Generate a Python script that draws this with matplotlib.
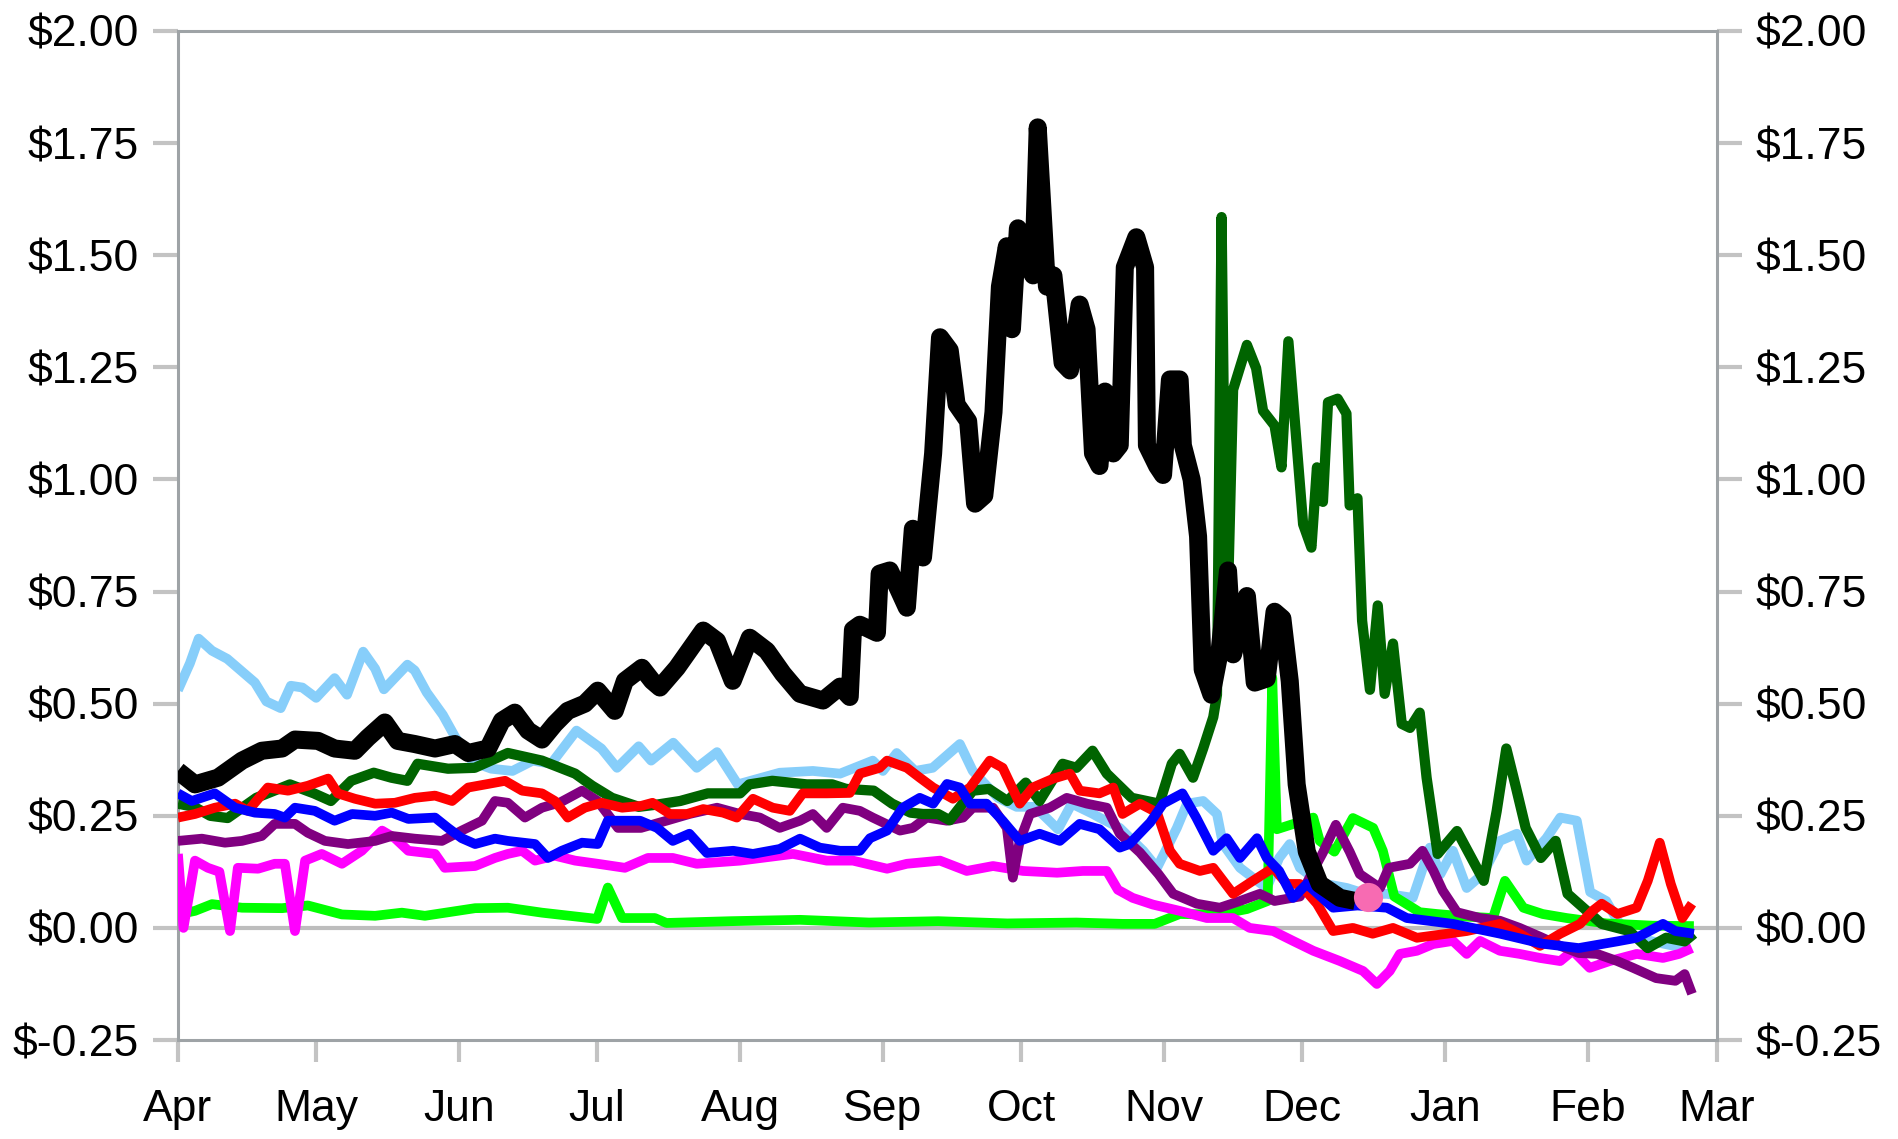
import numpy as np
import matplotlib
matplotlib.use("Agg")
import matplotlib.pyplot as plt
import matplotlib.dates as mdates
from matplotlib.ticker import MultipleLocator, FuncFormatter

plt.rcParams['font.family'] = ['Liberation Sans', 'DejaVu Sans']

START = '2022-04-01'
END = '2023-03-01'

# (days since Apr 1, dollars)
black = [(0, 0.35), (3.7, 0.32), (8.7, 0.335), (13.9, 0.373), (18.2, 0.395), (22.6, 0.40),
         (25.4, 0.42), (30.4, 0.417), (34, 0.40), (38.4, 0.395), (41.2, 0.424), (44.9, 0.458),
         (47.7, 0.417), (51.4, 0.41), (55.8, 0.40), (60.1, 0.41), (63, 0.39), (67.3, 0.40),
         (70.3, 0.462), (73.1, 0.48), (76, 0.44), (79, 0.42), (81.8, 0.455), (84.6, 0.484),
         (88.3, 0.50), (91.1, 0.529), (94.8, 0.484), (97, 0.551), (100.7, 0.58), (102.9, 0.551),
         (104.6, 0.536), (108.3, 0.58), (114, 0.663), (117, 0.64), (120.4, 0.551), (124.1, 0.647),
         (127.8, 0.618), (131.3, 0.567), (135, 0.522), (140, 0.507), (143.7, 0.538), (145.8, 0.515),
         (146.5, 0.665), (148, 0.676), (151.7, 0.658), (152.3, 0.79), (154.5, 0.797), (158.2, 0.714),
         (159.5, 0.89), (161.7, 0.826), (163.9, 1.058), (165.4, 1.317), (167.5, 1.288), (169, 1.167),
         (171.5, 1.13), (173, 0.946), (175, 0.964), (177, 1.15), (178.4, 1.43), (179.9, 1.52),
         (181, 1.335), (182.3, 1.56), (183.4, 1.50), (185.6, 1.455), (186.6, 1.785), (188.6, 1.43),
         (190, 1.455), (192, 1.26), (193.6, 1.243), (195.7, 1.39), (197.2, 1.335), (198.6, 1.058),
         (200, 1.03), (201.2, 1.196), (203, 1.058), (204.4, 1.076), (205.5, 1.473), (208, 1.54),
         (209.9, 1.473), (210.3, 1.076), (212.5, 1.03), (213.8, 1.01), (215.3, 1.223), (217.4, 1.223),
         (218.1, 1.076), (220, 1.0), (221.4, 0.873), (222.4, 0.576), (224.3, 0.52), (226, 0.61),
         (227.9, 0.797), (229, 0.61), (232, 0.74), (233.7, 0.547), (236.3, 0.556), (238, 0.705),
         (239.7, 0.69), (241.3, 0.55), (242.8, 0.32), (245, 0.17), (247.8, 0.098), (252.2, 0.067),
         (255.5, 0.06)]

dark_green = [(0, 0.277), (3.5, 0.27), (7, 0.25), (10.8, 0.245), (17, 0.29), (24.3, 0.32),
              (29.5, 0.30), (33.2, 0.283), (37.6, 0.328), (42.5, 0.346), (46.3, 0.335), (49.8, 0.328),
              (52, 0.366), (58.6, 0.355), (64.4, 0.357), (71.6, 0.39), (79, 0.373), (86.2, 0.344),
              (89.9, 0.317), (94.2, 0.29), (100, 0.27), (104, 0.275), (109, 0.283), (115, 0.30),
              (122, 0.30), (124, 0.32), (129, 0.328), (136.5, 0.32), (142, 0.32), (145, 0.31),
              (151, 0.306), (155, 0.277), (159, 0.257), (161.7, 0.254), (165, 0.254), (167.5, 0.24),
              (172.5, 0.306), (176, 0.31), (180, 0.283), (184, 0.324), (187, 0.283), (192, 0.366),
              (195, 0.357), (198.5, 0.395), (201.6, 0.344), (207, 0.29), (213, 0.277), (215.7, 0.366),
              (217.4, 0.388), (220.3, 0.335), (222.5, 0.40), (224.7, 0.47), (225.5, 0.52),
              (226.5, 1.585), (227.6, 0.62), (229, 1.20), (232, 1.30), (234, 1.248), (235.5, 1.153),
              (238, 1.12), (239.5, 1.027), (241, 1.308), (242.4, 1.13), (244.2, 0.90), (246, 0.848),
              (247.2, 1.027), (248.5, 0.95), (249.6, 1.172), (251.7, 1.18), (253.6, 1.147),
              (254.3, 0.942), (256, 0.958), (257, 0.685), (258.7, 0.531), (260.4, 0.719),
              (261.9, 0.522), (263.7, 0.634), (265.6, 0.455), (267.4, 0.446), (269.5, 0.48),
              (271, 0.335), (273.4, 0.165), (277.6, 0.216), (283.4, 0.105), (286.2, 0.26),
              (288.3, 0.40), (290.4, 0.313), (292.5, 0.223), (295.8, 0.156), (299, 0.194),
              (301.6, 0.076), (305, 0.045), (309, 0.009), (315, -0.007), (319, -0.045),
              (323, -0.022), (327, -0.03), (329, -0.013)]

lime = [(0, 0.03), (3.7, 0.038), (7.4, 0.053), (13.9, 0.045), (22.6, 0.044), (28.2, 0.05),
        (35.6, 0.03), (42.8, 0.027), (48.6, 0.034), (53.6, 0.027), (64.5, 0.044), (71.6, 0.045),
        (79, 0.034), (91, 0.02), (93.3, 0.09), (96.4, 0.022), (103.5, 0.022), (106, 0.011),
        (120, 0.015), (135, 0.018), (150, 0.012), (165, 0.015), (180, 0.01), (195, 0.012),
        (205, 0.009), (212, 0.009), (217.4, 0.031), (226, 0.03), (232, 0.042), (236.5, 0.06),
        (237.5, 0.558), (238.5, 0.22), (246.4, 0.246), (247.8, 0.194), (251, 0.17),
        (255, 0.245), (259.4, 0.223), (261.5, 0.172), (264, 0.07), (269.5, 0.035),
        (273.2, 0.031), (280, 0.025), (285.4, 0.022), (288, 0.105), (292, 0.045),
        (296.2, 0.031), (301.4, 0.022), (310, 0.01), (320, 0.005), (329, 0.004)]

sky_blue = [(0, 0.53), (2.6, 0.59), (4.5, 0.645), (7.4, 0.618), (10.7, 0.60), (16.7, 0.547),
            (19.2, 0.505), (22.3, 0.49), (24.5, 0.54), (27, 0.536), (30, 0.513), (34, 0.557),
            (36.7, 0.52), (40.2, 0.616), (42.8, 0.578), (44.7, 0.532), (49.8, 0.587), (51.4, 0.574),
            (54, 0.525), (57.5, 0.475), (60.2, 0.425), (64, 0.37), (68, 0.355), (72.6, 0.35),
            (77, 0.373), (81, 0.366), (86.5, 0.44), (91.9, 0.40), (95.3, 0.357), (100, 0.405),
            (102.7, 0.373), (107.5, 0.413), (112.6, 0.357), (117, 0.392), (121.5, 0.32),
            (125, 0.33), (130.6, 0.346), (137.8, 0.35), (143.7, 0.344), (150.8, 0.373),
            (153, 0.35), (156, 0.39), (160, 0.35), (163.8, 0.357), (169.7, 0.41), (172.5, 0.35),
            (178, 0.29), (182, 0.27), (186, 0.27), (191, 0.22), (194, 0.277), (198.6, 0.254),
            (200, 0.246), (204.4, 0.223), (209.5, 0.172), (212.5, 0.134), (216.8, 0.223),
            (219, 0.277), (222.5, 0.283), (225.5, 0.254), (226.8, 0.187), (230.5, 0.134),
            (234.2, 0.105), (236.3, 0.089), (239, 0.156), (241.3, 0.187), (243.5, 0.134),
            (248, 0.10), (253.7, 0.089), (258, 0.075), (262.4, 0.076), (268, 0.067),
            (270.2, 0.134), (271.7, 0.179), (274, 0.12), (276.7, 0.172), (279.7, 0.089),
            (283.2, 0.12), (286.9, 0.194), (290.6, 0.21), (292.7, 0.15), (297, 0.20),
            (300, 0.246), (303.6, 0.239), (306.5, 0.08), (310, 0.06), (312.4, 0.016),
            (316, -0.02), (320, -0.03), (327, -0.045)]

blue = [(0, 0.30), (3, 0.283), (8, 0.30), (12.4, 0.268), (16.7, 0.257), (21, 0.254), (23.2, 0.246),
        (25.4, 0.268), (29.7, 0.261), (34, 0.239), (37.8, 0.254), (42.8, 0.25), (46.4, 0.257),
        (50, 0.243), (55.8, 0.246), (58.6, 0.223), (61.6, 0.20), (64.5, 0.187), (68.8, 0.199),
        (71.6, 0.194), (77.5, 0.187), (80.3, 0.156), (83.3, 0.172), (87.7, 0.19), (91.1, 0.187),
        (93.3, 0.239), (97.7, 0.239), (100.3, 0.239), (104, 0.223), (107.4, 0.194), (111, 0.21),
        (114.8, 0.167), (120.5, 0.172), (124.8, 0.165), (130.6, 0.176), (135, 0.199),
        (139.3, 0.179), (143.7, 0.172), (148, 0.172), (150.2, 0.20), (153.9, 0.217),
        (157.3, 0.268), (161, 0.29), (163.9, 0.277), (166.9, 0.321), (169.7, 0.313),
        (171.9, 0.277), (175.5, 0.277), (179, 0.239), (182.7, 0.194), (187, 0.21),
        (191.4, 0.194), (195.7, 0.232), (200, 0.22), (204.4, 0.179), (206.5, 0.187),
        (211, 0.235), (213.8, 0.277), (218, 0.30), (221, 0.246), (224.7, 0.172), (227.6, 0.20),
        (230.5, 0.156), (234.2, 0.20), (236.3, 0.156), (239, 0.127), (242, 0.067), (245, 0.098),
        (250.7, 0.045), (256, 0.05), (262.4, 0.045), (266.7, 0.022), (276.7, 0.009),
        (287, -0.013), (296, -0.035), (304, -0.045), (312.4, -0.03), (316.6, -0.022),
        (322.3, 0.009), (325, -0.007), (329, -0.013)]

red = [(0, 0.246), (3.7, 0.254), (8, 0.268), (12.4, 0.277), (15.2, 0.261), (19.5, 0.313),
       (23.9, 0.306), (28.2, 0.317), (32.6, 0.333), (34.7, 0.30), (38.4, 0.288), (42.8, 0.277),
       (47.1, 0.279), (51.4, 0.29), (55.8, 0.295), (59.5, 0.283), (63, 0.313), (67.3, 0.321),
       (71, 0.328), (74.7, 0.306), (79, 0.30), (81.8, 0.283), (84.6, 0.246), (88.3, 0.268),
       (92, 0.279), (96.4, 0.268), (100.5, 0.272), (103, 0.279), (106.8, 0.254), (110.5, 0.254),
       (114, 0.265), (118.3, 0.257), (121.3, 0.246), (124.8, 0.288), (129.1, 0.268),
       (132.8, 0.261), (135.6, 0.30), (140.8, 0.30), (145.8, 0.301), (148, 0.344),
       (152.3, 0.357), (153.9, 0.373), (158.2, 0.357), (161, 0.335), (163.9, 0.313),
       (168.2, 0.288), (171.9, 0.313), (176.2, 0.373), (179, 0.357), (182.7, 0.277),
       (185.5, 0.313), (190, 0.333), (193.6, 0.344), (195.7, 0.306), (200, 0.30), (203, 0.313),
       (205, 0.254), (208.8, 0.277), (212.5, 0.257), (215.3, 0.172), (217.4, 0.143),
       (221.8, 0.127), (224.7, 0.134), (229, 0.076), (233.3, 0.105), (237.7, 0.134),
       (240.7, 0.098), (243.5, 0.098), (247.2, 0.054), (250.7, -0.007), (255, 0.0),
       (259.3, -0.013), (263.7, 0.0), (268.9, -0.022), (275.4, -0.013), (279.7, -0.007),
       (286.9, 0.009), (291.2, -0.013), (295.6, -0.04), (300, -0.013), (304.3, 0.009),
       (307, 0.038), (309, 0.054), (312.4, 0.031), (316.6, 0.045), (319, 0.105), (321.6, 0.19),
       (324, 0.098), (326.5, 0.022), (328.6, 0.054)]

purple = [(0, 0.194), (5.2, 0.199), (10.2, 0.19), (13.9, 0.194), (18.2, 0.205), (21, 0.232),
          (25.4, 0.232), (28.2, 0.212), (31.9, 0.194), (36.9, 0.187), (42.8, 0.194), (46.4, 0.205),
          (51.4, 0.199), (57.3, 0.194), (61.6, 0.217), (66, 0.239), (68.8, 0.283), (71.6, 0.279),
          (75.3, 0.246), (79, 0.268), (83, 0.28), (87.7, 0.306), (91.1, 0.283), (95.5, 0.223),
          (100.5, 0.223), (106, 0.239), (111, 0.254), (117, 0.268), (122, 0.254), (126.3, 0.246),
          (130.6, 0.223), (135, 0.239), (137.8, 0.254), (140.8, 0.223), (144.3, 0.268),
          (148, 0.261), (150.8, 0.246), (156.7, 0.217), (159.5, 0.223), (162.5, 0.246),
          (166.9, 0.239), (170.4, 0.246), (172.5, 0.268), (176.9, 0.268), (179.9, 0.223),
          (181.2, 0.112), (182.7, 0.194), (184.9, 0.254), (189.2, 0.268), (192.9, 0.29),
          (197.3, 0.277), (201.6, 0.268), (204.4, 0.21), (208.8, 0.168), (212.8, 0.12),
          (216, 0.076), (221.1, 0.054), (226.1, 0.045), (230.5, 0.06), (234.8, 0.076),
          (238, 0.06), (243.5, 0.07), (246, 0.12), (248.5, 0.168), (251.3, 0.23), (254.3, 0.17),
          (256.5, 0.12), (260.9, 0.089), (262.8, 0.134), (267.4, 0.143), (270.1, 0.172),
          (272.5, 0.127), (274.5, 0.083), (277.6, 0.035), (282.6, 0.022), (286.9, 0.016),
          (291.2, 0.0), (295.7, -0.02), (300, -0.04), (304, -0.056), (308, -0.058),
          (312.4, -0.074), (315.8, -0.089), (320.8, -0.112), (325, -0.118), (327, -0.103),
          (328.6, -0.147)]

magenta = [(0, 0.165), (1.2, 0.0), (3.7, 0.15), (6.5, 0.134), (9, 0.125), (11.3, -0.007),
           (13, 0.134), (17.4, 0.132), (21, 0.143), (23.2, 0.143), (25.4, -0.007), (27.6, 0.15),
           (31.2, 0.165), (35.6, 0.143), (39.9, 0.172), (44.3, 0.217), (47.1, 0.20), (50, 0.172),
           (55.8, 0.165), (57.9, 0.134), (64.5, 0.138), (68.8, 0.156), (71.6, 0.165),
           (74.7, 0.172), (77.5, 0.15), (81.8, 0.161), (86.2, 0.15), (91.1, 0.143), (97, 0.134),
           (102, 0.156), (107.4, 0.156), (112.6, 0.143), (122, 0.15), (133.5, 0.165),
           (140.8, 0.15), (146.5, 0.15), (153.9, 0.132), (158.2, 0.143), (165.4, 0.15),
           (171.2, 0.127), (176.9, 0.138), (183.4, 0.127), (190.8, 0.123), (196.4, 0.127),
           (201.6, 0.127), (204, 0.085), (207.2, 0.067), (211.6, 0.052), (217.4, 0.038),
           (223.3, 0.022), (229, 0.022), (232.6, 0.0), (237.7, -0.007), (242, -0.029),
           (246.4, -0.051), (252.2, -0.074), (257.2, -0.096), (260.2, -0.125), (263, -0.096),
           (265.2, -0.058), (268.9, -0.051), (272.4, -0.036), (276.7, -0.029), (279.7, -0.058),
           (282.6, -0.029), (286.9, -0.051), (291.2, -0.058), (295.6, -0.067), (300, -0.074),
           (302.7, -0.051), (306.4, -0.089), (310.7, -0.074), (316.6, -0.058), (322.3, -0.067),
           (325.8, -0.058), (328.6, -0.045)]

dot_day = 258.2
dot_value = 0.068

series = [
    (sky_blue, '#87cefa', 7.0, 2),
    (lime, '#00ff00', 7.0, 3),
    (magenta, '#ff00ff', 7.0, 4),
    (purple, '#800080', 7.0, 5),
    (dark_green, '#006400', 7.4, 6),
    (red, '#ff0000', 7.0, 7),
    (blue, '#0000ff', 7.0, 8),
    (black, '#000000', 13.0, 9),
]

base = mdates.date2num(np.datetime64(START))

fig = plt.figure(figsize=(18.99, 11.39), dpi=100)
ax = fig.add_axes([0.0937, 0.0869, 0.8104, 0.8859])

ax.axhline(0, color='#bdbdbd', lw=3, zorder=1)

for pts, color, lw, z in series:
    d = np.array([p[0] for p in pts])
    v = np.array([p[1] for p in pts])
    ax.plot(base + d, v, color=color, lw=lw, zorder=z,
            solid_joinstyle='round', solid_capstyle='butt')

ax.plot([base + dot_day], [dot_value], 'o', color='#f76bb2', ms=21, mec='none', zorder=10)

ax.set_xlim(mdates.date2num(np.datetime64(START)), mdates.date2num(np.datetime64(END)))
ax.set_ylim(-0.25, 2.0)

ax.xaxis.set_major_locator(mdates.MonthLocator())
ax.xaxis.set_major_formatter(mdates.DateFormatter('%b'))
ax.yaxis.set_major_locator(MultipleLocator(0.25))
ax.yaxis.set_major_formatter(FuncFormatter(lambda v, p: f"${v:.2f}"))

for s in ax.spines.values():
    s.set_color('#9ea3a6')
    s.set_linewidth(2.2)

ax.tick_params(axis='y', direction='out', length=18, width=3, color='#c3c3c3',
               labelsize=32, pad=10, left=True, right=True, labelleft=True, labelright=True)
ax.tick_params(axis='x', direction='out', length=16, width=3, color='#c3c3c3',
               labelsize=32, pad=19)

fig.savefig('out.png', dpi=100)
